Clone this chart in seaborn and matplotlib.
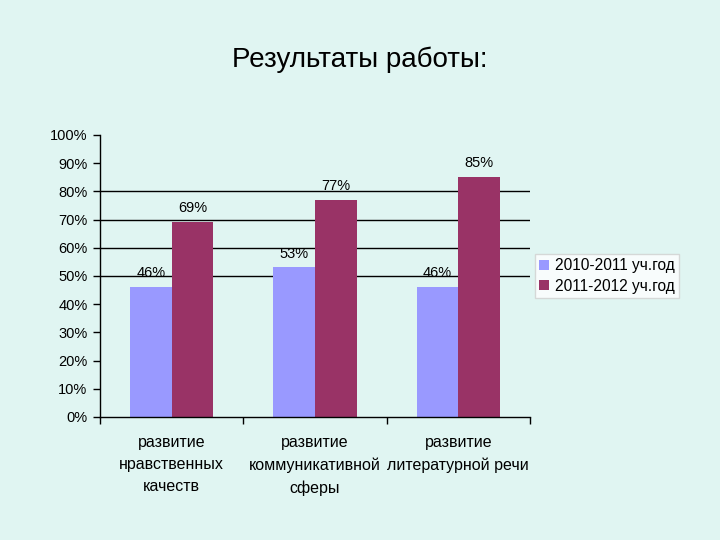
import matplotlib
matplotlib.use("Agg")
import matplotlib.pyplot as plt
import seaborn as sns
import pandas as pd
from matplotlib.ticker import FixedLocator

categories = ["развитие\nнравственных\nкачеств",
              "развитие\nкоммуникативной\nсферы",
              "развитие\nлитературной речи"]
series_names = ["2010-2011 уч.год", "2011-2012 уч.год"]
values_2010 = [46, 53, 46]
values_2011 = [69, 77, 85]
y_ticks = [0, 10, 20, 30, 40, 50, 60, 70, 80, 90, 100]
grid_levels = [50, 60, 70, 80]

df = pd.DataFrame({
    "cat": categories * 2,
    "series": [series_names[0]] * 3 + [series_names[1]] * 3,
    "val": values_2010 + values_2011,
})

sns.set_theme(style="white")
plt.rcParams["font.family"] = ["Liberation Sans", "DejaVu Sans"]
plt.rcParams["text.color"] = "black"
plt.rcParams["xtick.color"] = "black"
plt.rcParams["ytick.color"] = "black"
bg = "#e0f5f2"
fig = plt.figure(figsize=(7.2, 5.4), dpi=100, facecolor=bg)
ax = fig.add_axes([0.139, 0.228, 0.597, 0.522])
ax.set_facecolor(bg)

for g in grid_levels:
    ax.axhline(g, color="black", lw=1, zorder=0)

sns.barplot(data=df, x="cat", y="val", hue="series", order=categories,
            hue_order=series_names, palette=["#9999ff", "#993366"],
            width=0.58, saturation=1, ax=ax, zorder=2, edgecolor="none")

for cont in ax.containers:
    ax.bar_label(cont, labels=[f"{int(v)}%" for v in cont.datavalues],
                 padding=5, fontsize=10.5, color="black")

ax.set_ylim(0, 100)
ax.set_xlim(-0.5, 2.5)
ax.set_yticks(y_ticks)
ax.set_yticklabels([f"{t}%" for t in y_ticks], fontsize=10.5)
ax.tick_params(axis="y", left=True, length=5, width=1, color="black", pad=4,
               labelcolor="black")
ax.set_xticks(range(3))
ax.set_xticklabels(categories, fontsize=11.5, linespacing=1.6, color="black")
ax.tick_params(axis="x", bottom=False, pad=7)
ax.xaxis.set_minor_locator(FixedLocator([-0.5, 0.5, 1.5, 2.5]))
ax.tick_params(axis="x", which="minor", bottom=True, length=5, width=1, color="black")
ax.set_xlabel("")
ax.set_ylabel("")
for s in ["top", "right"]:
    ax.spines[s].set_visible(False)
for s in ["left", "bottom"]:
    ax.spines[s].set_color("black")
    ax.spines[s].set_linewidth(1)

leg = ax.legend(loc="center left", bbox_to_anchor=(1.0, 0.5), fontsize=11.2,
                frameon=True, fancybox=False, handlelength=0.6, handleheight=0.6,
                handletextpad=0.4, borderpad=0.3, labelspacing=0.35,
                borderaxespad=0.3)
leg.get_frame().set_facecolor("white")
leg.get_frame().set_edgecolor("#d0d0d0")
for t in leg.get_texts():
    t.set_color("black")

fig.text(0.5, 0.889, "Результаты работы:", ha="center", va="center", fontsize=20,
         color="black")

fig.savefig("out.png", dpi=100, facecolor=bg)
